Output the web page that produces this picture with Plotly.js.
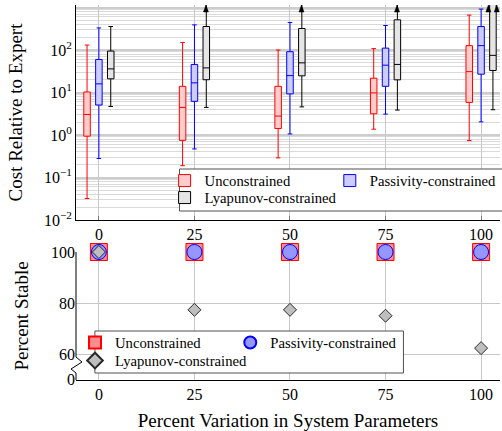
<!DOCTYPE html>
<html><head><meta charset="utf-8">
<script src="https://cdn.plot.ly/plotly-3.0.1.min.js"></script>
<style>html,body{margin:0;padding:0;background:#fff}#chart{width:502px;height:431px}</style>
</head><body><div id="chart"></div>
<script>
// ---------- data ----------
const categories = [0, 25, 50, 75, 100];

const uncLower  = [0.032, 0.19, 0.29, 1.37, 0.74];
const uncQ1     = [0.94, 0.75, 1.42, 3.16, 5.86];
const uncMedian = [3.04, 4.46, 2.79, 9.8, 31];
const uncQ3     = [10.3, 14, 14, 21.7, 127];
const uncUpper  = [131, 150, 100, 108, 664];

const pasLower  = [0.28, 0.47, 1.06, 3.1, 2.04];
const pasQ1     = [5.08, 6.2, 9.3, 14, 27];
const pasMedian = [16, 16.9, 25, 44, 127];
const pasQ3     = [60, 45.8, 91.6, 111, 358];
const pasUpper  = [332, 391, 446, 378, 921];

const lyaLower  = [4.7, 4.46, 4.6, 3.87, 3.94];
const lyaQ1     = [21, 20, 24.7, 19.9, 33];
const lyaMedian = [36, 38, 50, 45.8, 75];
const lyaQ3     = [94.6, 358, 321, 514, 1500];
const lyaUpper  = [358, 2000, 2000, 2000, 3000];

const stableUnc = [100, 100, 100, 100, 100];
const stablePas = [100, 100, 100, 100, 100];
const stableLya = [100, 77.5, 77.5, 75.2, 62.6];

const costTickVals = [0.01, 0.1, 1, 10, 100, 1000];
const costTickText = ['10<sup>\u22122</sup>', '10<sup>\u22121</sup>', '10<sup>0</sup>', '10<sup>1</sup>', '10<sup>2</sup>', '10<sup>3</sup>'];
const stableTickVals = [50.3, 60, 80, 100];
const stableTickText = ['0', '60', '80', '100'];
const xTickText = ['0', '25', '50', '75', '100'];

// ---------- layout helpers ----------
const W = 502, H = 431;
const M = {l: 76, r: 0, t: 5, b: 51};
const gw = W - M.l - M.r, gh = H - M.t - M.b;
const px2x = p => (p - M.l) / gw;
const px2y = p => (H - M.b - p) / gh;
const logTop = 3.06;

const minorVals = [];
for (let e = -2; e < 3; e++) for (let k = 2; k <= 9; k++) minorVals.push(k * Math.pow(10, e));

const serif = 'Liberation Serif, Times New Roman, serif';

function boxTrace(name, lo, q1, med, q3, up, col, fill, leg) {
  return {
    type: 'box', name: name, x: categories,
    lowerfence: lo, q1: q1, median: med, q3: q3, upperfence: up,
    boxpoints: false, whiskerwidth: 0.7,
    line: {color: col, width: 1}, fillcolor: fill, marker: {color: col},
    xaxis: 'x', yaxis: 'y', legend: leg, hoverinfo: 'skip'
  };
}

const traces = [
  boxTrace('Unconstrained', uncLower, uncQ1, uncMedian, uncQ3, uncUpper, 'rgb(255,0,0)', 'rgb(255,204,204)', 'legend'),
  boxTrace('Passivity-constrained', pasLower, pasQ1, pasMedian, pasQ3, pasUpper, 'rgb(0,0,255)', 'rgb(204,204,255)', 'legend2'),
  boxTrace('Lyapunov-constrained', lyaLower, lyaQ1, lyaMedian, lyaQ3, lyaUpper, 'rgb(0,0,0)', 'rgb(229,229,229)', 'legend3'),
  {type: 'scatter', mode: 'markers', name: 'Unconstrained', x: categories, y: stableUnc,
   marker: {symbol: 'square', size: 17, color: 'rgb(255,140,140)', line: {color: 'red', width: 1}},
   xaxis: 'x2', yaxis: 'y2', legend: 'legend4', cliponaxis: false, hoverinfo: 'skip'},
  {type: 'scatter', mode: 'markers', name: 'Passivity-constrained', x: categories, y: stablePas,
   marker: {symbol: 'circle', size: 15, color: 'rgb(150,150,255)', line: {color: 'blue', width: 1}},
   xaxis: 'x2', yaxis: 'y2', legend: 'legend5', cliponaxis: false, hoverinfo: 'skip'},
  {type: 'scatter', mode: 'markers', name: 'Lyapunov-constrained', x: categories, y: stableLya,
   marker: {symbol: 'diamond', size: 10, color: 'rgb(190,190,190)', line: {color: 'rgb(40,40,40)', width: 1}},
   xaxis: 'x2', yaxis: 'y2', legend: 'legend6', cliponaxis: false, hoverinfo: 'skip'}
];

const shapes = [
  // legend boxes (white background + frame)
  {type: 'rect', xref: 'paper', yref: 'paper', x0: px2x(180), x1: px2x(510), y0: px2y(211), y1: px2y(169),
   fillcolor: 'white', line: {color: 'rgb(80,80,80)', width: 1}, layer: 'above'},
  {type: 'rect', xref: 'paper', yref: 'paper', x0: px2x(95), x1: px2x(405), y0: px2y(373), y1: px2y(331),
   fillcolor: 'white', line: {color: 'rgb(80,80,80)', width: 1}, layer: 'above'},
  // broken y axis line of lower panel
  {type: 'path', xref: 'x2 domain', yref: 'y2 domain', xsizemode: 'pixel', xanchor: 0,
   ysizemode: 'pixel', yanchor: 0, layer: 'above',
   path: 'M0,128 L0,23 L6,18 L-5,11 L0,7 L0,0',
   line: {color: 'black', width: 1}}
];

// arrow heads for Lyapunov whiskers / boxes that leave the top of the log axis
const lyaShift = 11.5, lyaHalf = 4.2;
function arrow(xv, s) {
  shapes.push({type: 'path', xref: 'x', yref: 'y domain', xsizemode: 'pixel', xanchor: xv,
    ysizemode: 'pixel', yanchor: 1, layer: 'above',
    path: 'M' + (s - 2.5) + ',-7 L' + s + ',0 L' + (s + 2.5) + ',-7 Z',
    fillcolor: 'black', line: {color: 'black', width: 0.5}});
}
categories.forEach((c, i) => {
  if (lyaQ3[i] > Math.pow(10, logTop)) { arrow(c, lyaShift - lyaHalf); arrow(c, lyaShift + lyaHalf); }
  else if (lyaUpper[i] > Math.pow(10, logTop)) arrow(c, lyaShift);
});

const gridCol = 'rgb(200,200,200)';
const topDomain = [px2y(220), 1];
const botDomain = [0, px2y(252)];

function leg(xp, yp, constant) {
  const o = {x: px2x(xp), y: px2y(yp), xanchor: 'left', yanchor: 'middle', orientation: 'v',
    bgcolor: 'rgba(0,0,0,0)', borderwidth: 0, font: {size: 14.7}};
  if (constant) o.itemsizing = 'constant';
  return o;
}

const layout = {
  width: W, height: H, margin: M,
  paper_bgcolor: 'white', plot_bgcolor: 'white',
  font: {family: serif, size: 16, color: 'black'},
  showlegend: true,
  boxmode: 'group', boxgap: 0.628, boxgroupgap: 0.45,
  xaxis: {domain: [0, 1], range: [-5.99, 104.95], anchor: 'y', tickvals: categories, ticktext: xTickText,
    showline: true, linecolor: 'black', linewidth: 1, showgrid: true, gridcolor: gridCol, gridwidth: 1,
    ticks: 'inside', ticklen: 4, tickcolor: 'rgb(120,120,120)', zeroline: false},
  yaxis: {domain: topDomain, type: 'log', range: [-2, logTop], anchor: 'x',
    tickvals: costTickVals, ticktext: costTickText,
    showline: true, linecolor: 'black', linewidth: 1, showgrid: true, gridcolor: 'rgb(205,205,205)', gridwidth: 2,
    minor: {tickvals: minorVals, showgrid: true, gridcolor: 'rgb(218,218,218)', gridwidth: 1, ticks: ''},
    ticks: '', zeroline: false,
    title: {text: 'Cost Relative to Expert', font: {size: 19}, standoff: 16}},
  xaxis2: {domain: [0, 1], range: [-5.99, 104.95], anchor: 'y2', tickvals: categories, ticktext: xTickText,
    showline: true, linecolor: 'black', linewidth: 1, showgrid: true, gridcolor: gridCol, gridwidth: 1,
    ticks: '', zeroline: false,
    title: {text: 'Percent Variation in System Parameters', font: {size: 19}, standoff: 11}},
  yaxis2: {domain: botDomain, range: [50.2, 100], anchor: 'x2',
    tickvals: stableTickVals, ticktext: stableTickText,
    showline: false, showgrid: true, gridcolor: gridCol, gridwidth: 1, ticks: '', zeroline: false,
    title: {text: 'Percent Stable', font: {size: 19}, standoff: 17}},
  legend: leg(165, 181, false),
  legend2: leg(331, 181, false),
  legend3: leg(165, 198, false),
  legend4: leg(75, 343, true),
  legend5: leg(231, 343, true),
  legend6: leg(75, 361, true),
  shapes: shapes
};

Plotly.newPlot('chart', traces, layout, {staticPlot: true, displayModeBar: false});
</script></body></html>
